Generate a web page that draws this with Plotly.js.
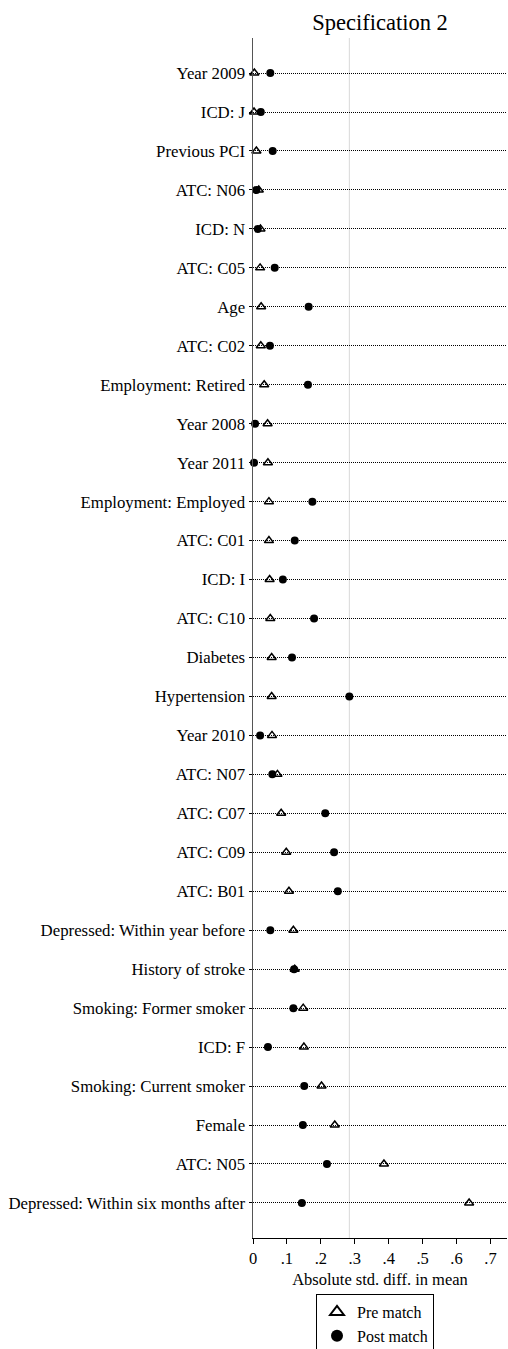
<!DOCTYPE html>
<html>
<head>
<meta charset="utf-8">
<script src="https://cdn.plot.ly/plotly-3.0.1.min.js"></script>
<style>html,body{margin:0;padding:0;background:#fff;}#chart{width:508px;height:1349px;}</style>
</head>
<body>
<div id="chart"></div>
<script>
const categories = [
  "Year 2009", "ICD: J", "Previous PCI", "ATC: N06", "ICD: N", "ATC: C05", "Age", "ATC: C02",
  "Employment: Retired", "Year 2008", "Year 2011", "Employment: Employed", "ATC: C01", "ICD: I",
  "ATC: C10", "Diabetes", "Hypertension", "Year 2010", "ATC: N07", "ATC: C07", "ATC: C09",
  "ATC: B01", "Depressed: Within year before", "History of stroke", "Smoking: Former smoker",
  "ICD: F", "Smoking: Current smoker", "Female", "ATC: N05", "Depressed: Within six months after"
];
const preMatch = [
  0.004, 0.003, 0.010, 0.017, 0.022, 0.021, 0.024, 0.023,
  0.033, 0.043, 0.044, 0.047, 0.047, 0.049,
  0.051, 0.055, 0.055, 0.056, 0.072, 0.083, 0.098,
  0.106, 0.119, 0.123, 0.148,
  0.150, 0.202, 0.241, 0.386, 0.637
];
const postMatch = [
  0.051, 0.023, 0.058, 0.010, 0.014, 0.064, 0.164, 0.050,
  0.162, 0.006, 0.003, 0.175, 0.123, 0.088,
  0.180, 0.115, 0.284, 0.021, 0.057, 0.213, 0.239,
  0.250, 0.051, 0.121, 0.119,
  0.044, 0.151, 0.147, 0.218, 0.144
];
const xTickVals = [0, 0.1, 0.2, 0.3, 0.4, 0.5, 0.6, 0.7];
const xTickText = ["0", ".1", ".2", ".3", ".4", ".5", ".6", ".7"];
const refLine = 0.284;

const FONT = "Liberation Serif, DejaVu Serif, serif";

const traces = [
  {
    type: "scatter", mode: "markers", name: "Pre match",
    x: preMatch, y: categories,
    marker: {symbol: "triangle-up-open", size: 8, color: "#000", line: {color: "#000", width: 1.5}},
    cliponaxis: false
  },
  {
    type: "scatter", mode: "markers", name: "Post match",
    x: postMatch, y: categories,
    marker: {symbol: "circle", size: 8, color: "#000"},
    cliponaxis: false
  }
];

const PLOT_T = 38, PLOT_B = 111, H = 1349;
const plotH = H - PLOT_T - PLOT_B;

const layout = {
  width: 508, height: H,
  margin: {l: 253, r: 1, t: PLOT_T, b: PLOT_B, autoexpand: false},
  paper_bgcolor: "#fff", plot_bgcolor: "#fff",
  font: {family: FONT, size: 16.5, color: "#000"},
  title: {text: "Specification 2", font: {family: FONT, size: 22.5, color: "#000"},
          x: 380 / 508, xanchor: "center", y: 1 - 22 / H, yanchor: "middle"},
  showlegend: true,
  legend: {
    x: (316 - 253) / 254, xanchor: "left", y: (H - PLOT_B - 1294) / plotH, yanchor: "top",
    bordercolor: "#000", borderwidth: 1, bgcolor: "#fff",
    font: {family: FONT, size: 16, color: "#000"},
    itemsizing: "constant", tracegroupgap: 0, itemwidth: 30
  },
  xaxis: {
    range: [0, 0.7487], tickvals: xTickVals, ticktext: xTickText,
    ticks: "outside", ticklen: 5, tickcolor: "#000", tickwidth: 1,
    showline: true, linecolor: "#000", linewidth: 1,
    showgrid: false, zeroline: false,
    tickfont: {family: FONT, size: 16.5, color: "#000"},
    title: {text: "Absolute std. diff. in mean", font: {family: FONT, size: 16.5, color: "#000"}, standoff: 6},
    fixedrange: true
  },
  yaxis: {
    type: "category", categoryorder: "array", categoryarray: categories,
    range: [29.9, -0.9], autorange: false,
    ticks: "outside", ticklen: 3, tickcolor: "#000", tickwidth: 1,
    showline: true, linecolor: "#555", linewidth: 1.5,
    showgrid: true, gridcolor: "#000", gridwidth: 1, griddash: "1px,1px",
    zeroline: false,
    tickfont: {family: FONT, size: 16.8, color: "#000"},
    fixedrange: true
  },
  shapes: [
    {type: "line", xref: "x", yref: "paper", x0: refLine, x1: refLine, y0: 0, y1: 1,
     line: {color: "#d9d9d9", width: 1}, layer: "below"}
  ]
};

Plotly.newPlot("chart", traces, layout, {displayModeBar: false, staticPlot: true});
</script>
</body>
</html>
